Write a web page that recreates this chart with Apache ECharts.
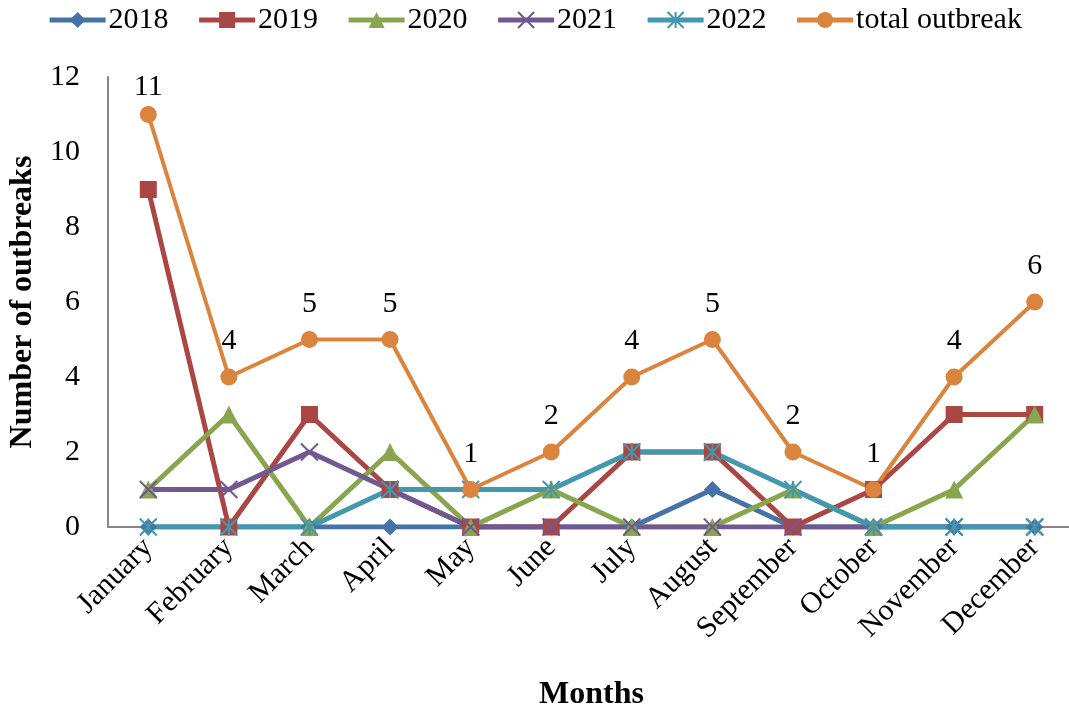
<!DOCTYPE html>
<html>
<head>
<meta charset="utf-8">
<script src="https://cdn.jsdelivr.net/npm/echarts@6/dist/echarts.min.js"></script>
<style>
  html, body { margin: 0; padding: 0; background: #fff; }
  #chart { width: 1069px; height: 712px; }
</style>
</head>
<body>
<div id="chart"></div>
<script>
var months = ["January", "February", "March", "April", "May", "June", "July", "August", "September", "October", "November", "December"];
var y2018 = [0, 0, 0, 0, 0, 0, 0, 1, 0, 0, 0, 0];
var y2019 = [9, 0, 3, 1, 0, 0, 2, 2, 0, 1, 3, 3];
var y2020 = [1, 3, 0, 2, 0, 1, 0, 0, 1, 0, 1, 3];
var y2021 = [1, 1, 2, 1, 0, 0, 0, 0, 0, 0, 0, 0];
var y2022 = [0, 0, 0, 1, 1, 1, 2, 2, 1, 0, 0, 0];
var totalOutbreak = [11, 4, 5, 5, 1, 2, 4, 5, 2, 1, 4, 6];

var font = "Liberation Serif";
var chart = echarts.init(document.getElementById("chart"));

function lineSeries(name, data, color, symbol, size, width) {
  return {
    name: name,
    type: "line",
    data: data,
    symbol: symbol,
    symbolSize: size,
    lineStyle: { color: color, width: width },
    itemStyle: { color: color },
    animation: false,
  };
}

// the top label sits closer to its point (chart edge)
var totalData = totalOutbreak.map(function (v, i) {
  return i === 0 ? { value: v, label: { distance: 4 } } : v;
});

var series = [
  lineSeries("2018", y2018, "#4572A7", "diamond", 17, 5),
  lineSeries("2019", y2019, "#AA4643", "rect", 17, 5),
  lineSeries("2020", y2020, "#89A54E", "triangle", 18, 5),
  lineSeries("2021", y2021, "#71588F", "path://M0,0L10,10M10,0L0,10", 17, 5),
  lineSeries("2022", y2022, "#4198AF", "path://M0,0L10,10M10,0L0,10M5,0L5,10", 17, 5),
  lineSeries("total outbreak", totalData, "#DB843D", "circle", 17, 4),
];
// x-like markers drawn as outlines
series[3].itemStyle = { color: "none", borderColor: "#71588F", borderWidth: 2 };
series[4].itemStyle = { color: "none", borderColor: "#4198AF", borderWidth: 2 };
series[5].label = {
  show: true,
  position: "top",
  distance: 12,
  color: "#000",
  fontFamily: font,
  fontSize: 30,
};

var option = {
  backgroundColor: "#fff",
  legend: {
    top: 0,
    left: "center",
    itemWidth: 56,
    itemHeight: 20,
    itemGap: 28,
    lineStyle: { width: 5 },
    textStyle: { fontFamily: font, fontSize: 30, color: "#000", padding: [0, 0, 0, -2] },
    data: ["2018", "2019", "2020", "2021", "2022", "total outbreak"],
  },
  grid: {
    left: 108,
    top: 77,
    width: 967,
    bottom: 185,
    outerBoundsMode: "none",
  },
  xAxis: {
    type: "category",
    data: months,
    boundaryGap: true,
    name: "Months",
    nameLocation: "middle",
    nameGap: 152,
    nameTextStyle: { fontFamily: font, fontSize: 32, fontWeight: "bold", color: "#000" },
    axisLine: { lineStyle: { color: "#868686", width: 2 } },
    axisTick: { show: false },
    axisLabel: {
      rotate: 45,
      interval: 0,
      margin: 16,
      fontFamily: font,
      fontSize: 30,
      color: "#000",
    },
  },
  yAxis: {
    type: "value",
    min: 0,
    max: 12,
    interval: 2,
    name: "Number of outbreaks",
    nameLocation: "middle",
    nameGap: 66,
    nameTextStyle: { fontFamily: font, fontSize: 32, fontWeight: "bold", color: "#000" },
    axisLine: { show: true, lineStyle: { color: "#868686", width: 2 } },
    axisTick: { show: false },
    splitLine: { show: false },
    axisLabel: { fontFamily: font, fontSize: 30, color: "#000", margin: 28 },
  },
  series: series,
};
chart.setOption(option);
</script>
</body>
</html>
